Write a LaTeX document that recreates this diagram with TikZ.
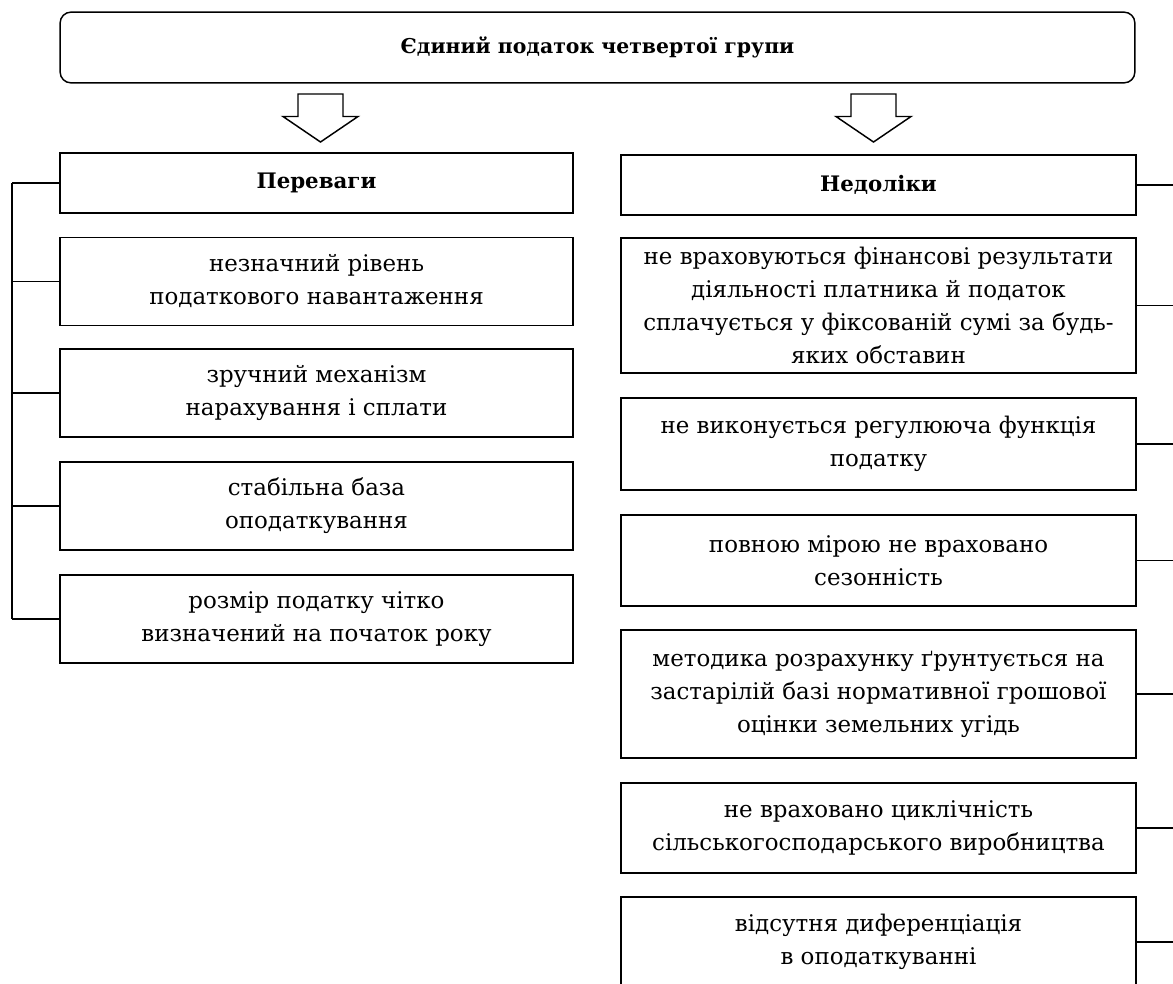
\documentclass[tikz,border=0pt]{standalone}
\usepackage{fontspec}
\setmainfont{DejaVu Serif}
\usepackage{tikz}

\begin{document}
\begin{tikzpicture}[x=0.75pt, y=-0.75pt,
  box/.style={rectangle, draw, line width=1.1pt, align=center, inner sep=2pt, minimum width=385pt, minimum height=66pt, font=\fontsize{17.2}{24.75}\selectfont},
  head/.style={box, minimum height=45pt, font=\bfseries\fontsize{16}{24.75}\selectfont},
  topbox/.style={box, rounded corners=8pt, minimum width=806pt, minimum height=53pt, font=\bfseries\fontsize{15.3}{24.75}\selectfont},
  hollow/.style={draw, line width=1.1pt, fill=white, line join=miter},
  link/.style={draw, line width=1.1pt}]
\useasboundingbox (0,0) rectangle (1173,983);
\clip (0,0) rectangle (1173,983);

\node [topbox] (tax) at (597.5,47.5) {Єдиний податок четвертої групи};

% block arrows under the title
\foreach \ax in {320.5,873.5}
  \draw [hollow] (\ax-22.5,94) -- (\ax+22.5,94) -- (\ax+22.5,116.5) -- (\ax+37.5,116.5) -- (\ax,142) -- (\ax-37.5,116.5) -- (\ax-22.5,116.5) -- cycle;

% advantages
\node [head] (adv0) at (316.5,183) {Переваги};
\node [box] (adv1) at (316.5,281.5) {незначний рівень\\податкового навантаження};
\node [box] (adv2) at (316.5,393) {зручний механізм\\нарахування і сплати};
\node [box] (adv3) at (316.5,506) {стабільна база\\оподаткування};
\node [box] (adv4) at (316.5,619) {розмір податку чітко\\визначений на початок року};

% disadvantages
\node [head, minimum width=386pt] (dis0) at (878.5,185) {Недоліки};
\node [box, minimum width=386pt, minimum height=101pt] (dis1) at (878.5,305.5) {не враховуються фінансові результати\\діяльності платника й податок\\сплачується у фіксованій сумі за будь-\\яких обставин};
\node [box, minimum width=386pt, minimum height=69pt] (dis2) at (878.5,444) {не виконується регулююча функція\\податку};
\node [box, minimum width=386pt, minimum height=68pt] (dis3) at (878.5,560.5) {повною мірою не враховано\\сезонність};
\node [box, minimum width=386pt, minimum height=96pt] (dis4) at (878.5,694) {методика розрахунку ґрунтується на\\застарілій базі нормативної грошової\\оцінки земельних угідь};
\node [box, minimum width=386pt, minimum height=67.5pt] (dis5) at (878.5,828) {не враховано циклічність\\сільськогосподарського виробництва};
\node [box, minimum width=386pt, minimum height=67.5pt] (dis6) at (878.5,942) {відсутня диференціація\\в оподаткуванні};

% brackets
\coordinate (lbus) at (12,0);
\coordinate (redge) at (1173,0);
\draw [link] (adv0.west -| lbus) -- (adv4.west -| lbus);
\foreach \n in {0,...,4}
  \draw [link] (adv\n.west) -- (adv\n.west -| lbus);
\foreach \n in {0,...,6}
  \draw [link] (dis\n.east) -- (dis\n.east -| redge);

\end{tikzpicture}
\end{document}
